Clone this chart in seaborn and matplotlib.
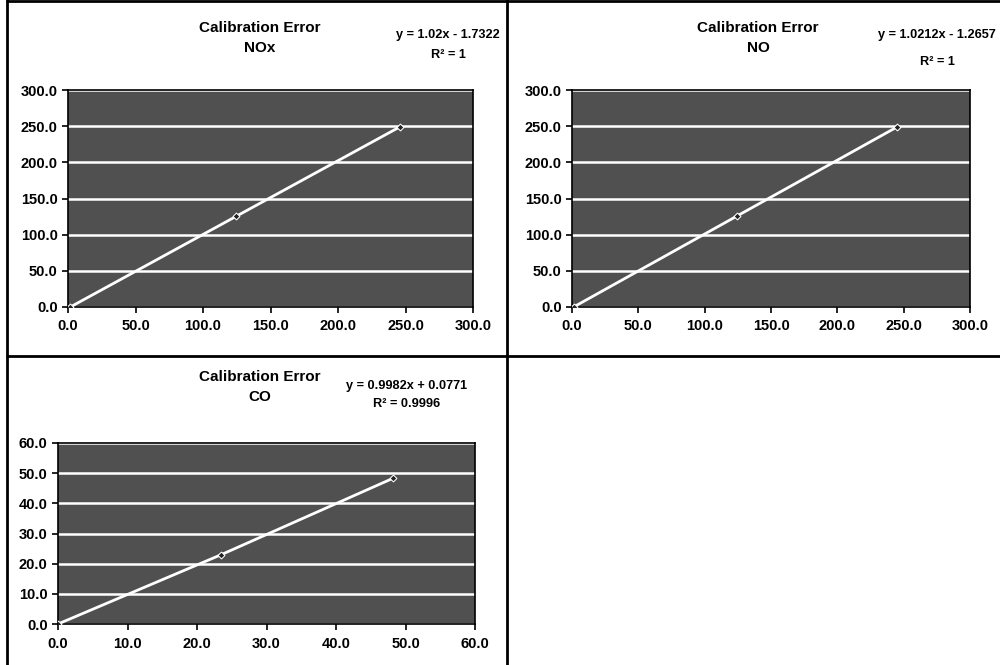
#! /usr/bin/env python3

import numpy as np
import pandas as pd
import seaborn as sns, matplotlib.pyplot as plt
from matplotlib.lines import Line2D
from matplotlib.ticker import FixedLocator, FormatStrFormatter

sns.set_theme(style="white")
plt.rcParams['font.family'] = ['Liberation Sans', 'DejaVu Sans']
plt.rcParams['font.weight'] = 'bold'
plt.rcParams['text.color'] = 'black'
plt.rcParams['xtick.color'] = 'black'
plt.rcParams['ytick.color'] = 'black'

nox_x = [1.7, 124.5, 246.0]
nox_y = [0.0, 125.3, 249.2]
no_x = [1.2, 124.0, 245.0]
no_y = [0.0, 125.4, 248.9]
co_x = [0.0, 23.5, 48.2]
co_y = [0.0, 23.0, 48.3]

big_ticks = [0, 50, 100, 150, 200, 250, 300]
small_ticks = [0, 10, 20, 30, 40, 50, 60]

gases = ["NOx", "NO", "CO"]
equations = ["y = 1.02x - 1.7322", "y = 1.0212x - 1.2657", "y = 0.9982x + 0.0771"]
r2_labels = ["R² = 1", "R² = 1", "R² = 0.9996"]

W, H = 1000, 665
fig = plt.figure(figsize=(10, 6.65), dpi=100)
fig.patch.set_facecolor("white")


def px(x0, y0, x1, y1):
    # pixel box -> figure fraction rect
    return [x0 / W, 1 - y1 / H, (x1 - x0) / W, (y1 - y0) / H]


def put(x, y, s, size):
    fig.text(x / W, 1 - y / H, s, ha="center", va="center",
             fontsize=size, fontweight="bold", color="black")


# rect, title centre x, title line y's, eq centre x, eq y, r2 y
panels = [
    (nox_x, nox_y, big_ticks, px(68, 90, 473, 307), 260, (28, 48), 448, 35, 55),
    (no_x, no_y, big_ticks, px(572, 90, 970, 307), 758, (28, 48), 937, 35, 62),
    (co_x, co_y, small_ticks, px(58, 443, 475, 624), 260, (377, 397), 407, 386, 404),
]

for i, (xs, ys, ticks, rect, tx, ty, ex, ey, ry) in enumerate(panels):
    ax = fig.add_axes(rect)
    df = pd.DataFrame({"x": xs, "y": ys})
    ax.set_facecolor("#505050")
    sns.lineplot(data=df, x="x", y="y", ax=ax, color="white", lw=2,
                 marker="D", markersize=3.5, markerfacecolor="#222222",
                 markeredgecolor="white", zorder=3)
    ax.set_xlim(ticks[0], ticks[-1])
    ax.set_ylim(ticks[0], ticks[-1])
    ax.xaxis.set_major_locator(FixedLocator(ticks))
    ax.yaxis.set_major_locator(FixedLocator(ticks))
    ax.xaxis.set_major_formatter(FormatStrFormatter("%.1f"))
    ax.yaxis.set_major_formatter(FormatStrFormatter("%.1f"))
    ax.set_xlabel("")
    ax.set_ylabel("")
    ax.yaxis.grid(True, color="white", lw=1.8)
    ax.xaxis.grid(False)
    ax.set_axisbelow(True)
    for s in ax.spines.values():
        s.set_color("black")
        s.set_linewidth(1.2)
    ax.tick_params(axis="both", direction="out", length=4, width=1.2,
                   color="black", labelsize=10.5, bottom=True, left=True)
    ax.tick_params(axis="x", pad=5)
    for lab in ax.get_xticklabels() + ax.get_yticklabels():
        lab.set_fontweight("bold")

    put(tx, ty[0], "Calibration Error", 11)
    put(tx, ty[1], gases[i], 11)
    put(ex, ey, equations[i], 9.2)
    put(ex, ry, r2_labels[i], 9.2)

# panel frame lines
frame = [
    ((7, 7), (0, 665)),
    ((7, 1000), (1, 1)),
    ((507, 507), (0, 665)),
    ((7, 1000), (356, 356)),
]
for xx, yy in frame:
    fig.add_artist(Line2D([x / W for x in xx], [1 - y / H for y in yy],
                          color="black", lw=2))

plt.savefig("out.png", dpi=100)
